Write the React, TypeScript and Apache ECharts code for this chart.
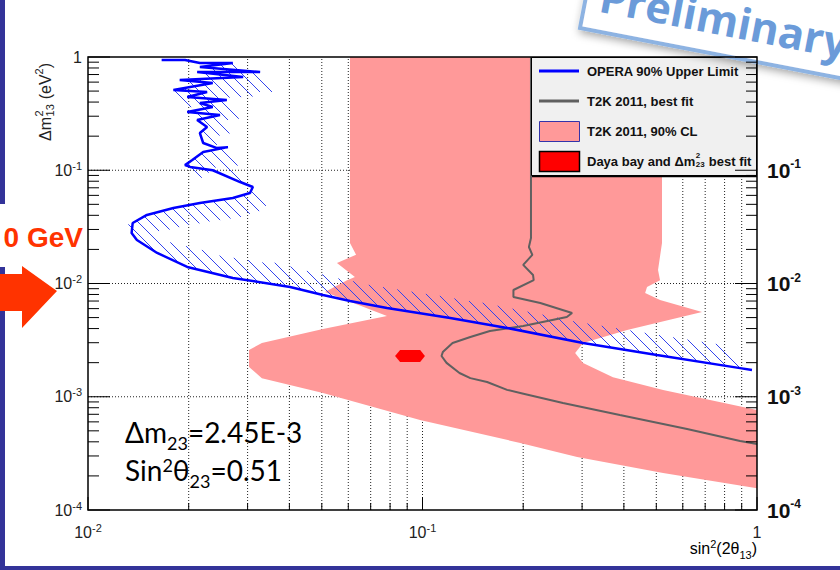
import React, { useEffect, useRef } from 'react';
import * as echarts from 'echarts';

// ---------- data (sin^2(2θ13), Δm^2_13 [eV^2]) ----------
const operaX = [0.0166, 0.0195, 0.0216, 0.0271, 0.0216, 0.0327, 0.0212, 0.0291, 0.0188, 0.0236, 0.0180, 0.0227, 0.0198, 0.0260, 0.0216, 0.0236, 0.0198, 0.0248, 0.0212, 0.0227, 0.0216, 0.0221, 0.0243, 0.0262, 0.0221, 0.0205, 0.0195, 0.0202, 0.0236, 0.0285, 0.0311, 0.0305, 0.0271, 0.0216, 0.0180, 0.0150, 0.0136, 0.0135, 0.0140, 0.0161, 0.0198, 0.0271, 0.0402, 0.0504, 0.0607, 0.0783, 0.121, 0.179, 0.302, 0.502, 0.890, 0.966];
const operaY = [0.941, 0.941, 0.885, 0.885, 0.816, 0.737, 0.737, 0.666, 0.626, 0.589, 0.511, 0.491, 0.443, 0.417, 0.392, 0.362, 0.327, 0.307, 0.278, 0.241, 0.213, 0.174, 0.157, 0.160, 0.145, 0.123, 0.111, 0.107, 0.100, 0.0787, 0.0711, 0.0630, 0.0569, 0.0514, 0.0464, 0.0403, 0.0342, 0.0279, 0.0242, 0.0186, 0.0140, 0.0112, 0.00931, 0.00792, 0.00701, 0.00608, 0.00496, 0.00405, 0.00298, 0.00234, 0.00179, 0.00172];

const t2kFitX = [0.211, 0.211, 0.208, 0.213, 0.200, 0.214, 0.215, 0.187, 0.187, 0.225, 0.280, 0.270, 0.200, 0.159, 0.139, 0.123, 0.115, 0.114, 0.118, 0.129, 0.139, 0.156, 0.179, 0.196, 0.263, 0.389, 0.524, 0.618, 0.890, 1.0];
const t2kFitY = [1.0, 0.0252, 0.0210, 0.0179, 0.0146, 0.0119, 0.0107, 0.00876, 0.00760, 0.00673, 0.00549, 0.00506, 0.00421, 0.00381, 0.00337, 0.00298, 0.00248, 0.00229, 0.00199, 0.00162, 0.00146, 0.00135, 0.00115, 0.00108, 0.000881, 0.000690, 0.000575, 0.000519, 0.000407, 0.000383];

const t2kClX = [0.0607, 0.520, 0.520, 0.506, 0.513, 0.469, 0.463, 0.513, 0.685, 0.409, 0.302, 0.286, 0.302, 0.371, 0.524, 1.0, 1.0, 0.524, 0.290, 0.196, 0.0983, 0.0504, 0.0331, 0.0303, 0.0303, 0.0331, 0.0504, 0.0783, 0.0511, 0.0595, 0.0628, 0.0555, 0.0633, 0.0607];
const t2kClY = [1.0, 1.0, 0.0228, 0.01316, 0.0107, 0.00931, 0.00824, 0.00715, 0.00560, 0.00389, 0.00298, 0.00243, 0.00199, 0.00149, 0.00115, 0.000764, 0.000156, 0.000212, 0.000294, 0.000391, 0.000623, 0.00108, 0.00146, 0.00183, 0.00259, 0.00298, 0.00396, 0.00516, 0.00841, 0.0107, 0.0114, 0.0152, 0.0179, 0.0228];

const dayaX = [0.0828, 0.0857, 0.0984, 0.1017, 0.0984, 0.0857];
const dayaY = [0.00229, 0.00259, 0.00259, 0.00229, 0.00203, 0.00203];

const xMajorTicks = [0.01, 0.1, 1];
const xMinorTicks = [0.02, 0.03, 0.04, 0.05, 0.06, 0.07, 0.08, 0.09, 0.2, 0.3, 0.4, 0.5, 0.6, 0.7, 0.8, 0.9];
const yMajorTicks = [1e-4, 1e-3, 1e-2, 1e-1, 1];
const yMinorTicks = [1e-4, 1e-3, 1e-2, 1e-1].flatMap((d) => [2, 3, 4, 5, 6, 7, 8, 9].map((m) => m * d));
const xGridLines = [0.02, 0.03, 0.04, 0.05, 0.06, 0.07, 0.08, 0.09, 0.1, 0.2, 0.3, 0.4, 0.5, 0.6, 0.7, 0.8, 0.9];
const yGridLines = [1e-3, 1e-2, 1e-1];

const legendNames = ['OPERA 90% Upper Limit', 'T2K 2011, best fit', 'T2K 2011, 90% CL'];

const FONT = '"Liberation Sans", Arial, Helvetica, sans-serif';
const SLIDE_FONT = 'Lato, "Open Sans", sans-serif';

let _ctx: CanvasRenderingContext2D | null = null;
function measure(t: string, font: string): number {
  if (!_ctx) _ctx = document.createElement('canvas').getContext('2d');
  if (!_ctx) return t.length * 7;
  _ctx.font = font;
  return _ctx.measureText(t).width;
}

function txt(text: string, x: number, y: number, size: number, opts: any = {}) {
  const align = opts.align || 'left';
  const va = opts.va || 'middle';
  return {
    type: 'text',
    z: opts.z ?? 60,
    style: {
      text, x, y,
      fontSize: size,
      fontFamily: opts.family || FONT,
      fontWeight: opts.weight || 'normal',
      fill: opts.fill || '#222',
      align, textAlign: align,
      verticalAlign: va, textVerticalAlign: va,
    },
  };
}

function polygonSeries(name: string, xs: number[], ys: number[], color: string, z: number) {
  return {
    type: 'custom', name, z, clip: true, silent: true,
    coordinateSystem: 'cartesian2d',
    data: xs.map((x, i) => [x, ys[i]]),
    renderItem: (params: any, api: any) => {
      if (params.dataIndex !== 0) return null;
      const points = xs.map((x, i) => api.coord([x, ys[i]]));
      return { type: 'polygon', shape: { points }, style: { fill: color, lineWidth: 0 } };
    },
  };
}

export default function App() {
  const ref = useRef<HTMLDivElement>(null);
  useEffect(() => {
    if (!ref.current) return;
    const chart = echarts.init(ref.current, null, { renderer: 'svg' });

    const expLabel = (v: number) => {
      const e = Math.round(Math.log10(v));
      return e === 0 ? '{b|1}' : `{b|10}{s|${e}}`;
    };
    const richReg = {
      b: { fontFamily: FONT, fontSize: 16, color: '#222', lineHeight: 20 },
      s: { fontFamily: FONT, fontSize: 11, color: '#222', lineHeight: 11, verticalAlign: 'top' },
    };
    const richBold = {
      b: { fontFamily: FONT, fontSize: 21, fontWeight: 'bold', color: '#111', lineHeight: 24 },
      s: { fontFamily: FONT, fontSize: 12, fontWeight: 'bold', color: '#111', lineHeight: 12, verticalAlign: 'top' },
    };

    // ---- legend (drawn with graphic elements) ----
    const LX = 587;
    const lf = `bold 13px ${FONT}`;
    const wDaya = measure('Daya bay and \u0394m', lf);
    const w23 = measure('23', `bold 8px ${FONT}`);
    const legendEls: any[] = [
      { type: 'rect', z: 50, shape: { x: 531.5, y: 57.5, width: 225, height: 118 }, style: { fill: '#f0f0f0', stroke: '#000', lineWidth: 1 } },
      { type: 'line', z: 51, shape: { x1: 532, y1: 176.5, x2: 757, y2: 176.5 }, style: { stroke: '#000', lineWidth: 1.5 } },
      { type: 'line', z: 51, shape: { x1: 539, y1: 71, x2: 579, y2: 71 }, style: { stroke: '#0000ff', lineWidth: 3 } },
      { type: 'line', z: 51, shape: { x1: 539, y1: 101, x2: 579, y2: 101 }, style: { stroke: '#606060', lineWidth: 3 } },
      { type: 'rect', z: 51, shape: { x: 539.5, y: 121.5, width: 40, height: 20 }, style: { fill: '#ff9999', stroke: '#3333aa', lineWidth: 1 } },
      { type: 'rect', z: 51, shape: { x: 539.5, y: 151.5, width: 40, height: 20 }, style: { fill: '#ff0000', stroke: '#000', lineWidth: 1.5 } },
      txt(legendNames[0], LX, 71, 13, { weight: 'bold', fill: '#111', z: 52 }),
      txt(legendNames[1], LX, 101, 13, { weight: 'bold', fill: '#111', z: 52 }),
      txt(legendNames[2], LX, 131, 13, { weight: 'bold', fill: '#111', z: 52 }),
      txt('Daya bay and \u0394m', LX, 161, 13, { weight: 'bold', fill: '#111', z: 52 }),
      txt('2', LX + wDaya + 0.5, 155, 8, { weight: 'bold', fill: '#111', z: 52 }),
      txt('23', LX + wDaya + 0.5, 164, 8, { weight: 'bold', fill: '#111', z: 52 }),
      txt(' best fit', LX + wDaya + w23 + 1, 161, 13, { weight: 'bold', fill: '#111', z: 52 }),
    ];

    // ---- y title (rotated, stacked sup/sub) ----
    const f16 = `16px ${FONT}`, f11 = `11px ${FONT}`;
    const a1 = measure('\u0394m', f16), a2 = measure('13', f11), a3 = measure(' (eV', f16), a4 = measure('2', f11);
    const yTitle = {
      type: 'group', x: 45, y: 141, rotation: Math.PI / 2, z: 40,
      children: [
        txt('\u0394m', 0, 0, 16),
        txt('2', a1 + 0.5, -6, 11),
        txt('13', a1 + 0.5, 5, 11),
        txt(' (eV', a1 + a2 + 1, 0, 16),
        txt('2', a1 + a2 + 1 + a3, -6, 11),
        txt(')', a1 + a2 + 1 + a3 + a4, 0, 16),
      ],
    };

    const xTitle = {
      type: 'text', z: 40,
      style: {
        text: '{a|sin}{p|2}{a|(2\u03b8}{s|13}{a|)}',
        x: 757, y: 536, align: 'right', textAlign: 'right', verticalAlign: 'top', textVerticalAlign: 'top',
        rich: {
          a: { fontFamily: FONT, fontSize: 16, color: '#222', lineHeight: 24 },
          p: { fontFamily: FONT, fontSize: 11, color: '#222', lineHeight: 11, verticalAlign: 'top', padding: [2, 0, 0, 0] },
          s: { fontFamily: FONT, fontSize: 11, color: '#222', lineHeight: 11, verticalAlign: 'bottom' },
        },
      },
    };

    const annot = (text: string, y: number) => ({
      type: 'text', z: 40,
      style: {
        text, x: 125, y, verticalAlign: 'top', textVerticalAlign: 'top',
        rich: {
          a: { fontFamily: SLIDE_FONT, fontSize: 28, color: '#000', lineHeight: 40 },
          s: { fontFamily: SLIDE_FONT, fontSize: 18, color: '#000', lineHeight: 18, verticalAlign: 'bottom' },
          p: { fontFamily: SLIDE_FONT, fontSize: 18, color: '#000', lineHeight: 18, verticalAlign: 'top', padding: [6, 0, 0, 0] },
        },
      },
    });

    const decor: any[] = [
      { type: 'rect', z: 1, shape: { x: 0, y: 0, width: 5, height: 204 }, style: { fill: '#333399' } },
      { type: 'rect', z: 1, shape: { x: 0, y: 267, width: 5, height: 303 }, style: { fill: '#333399' } },
      { type: 'rect', z: 1, shape: { x: 0, y: 566, width: 840, height: 4 }, style: { fill: '#333399' } },
      { type: 'polygon', z: 2, shape: { points: [[0, 274], [22, 274], [22, 266], [57, 291], [22, 328], [22, 311], [0, 311]] }, style: { fill: '#ff3300' } },
      txt('0 GeV', 83, 237, 28, { align: 'right', weight: 'bold', fill: '#ff3300', z: 3 }),
      {
        type: 'group', x: 580, y: 28, rotation: -0.19, z: 70,
        children: [
          { type: 'rect', z: 70, shape: { x: 0, y: -90, width: 330, height: 90 }, style: { fill: '#ffffff', stroke: '#8db3e2', lineWidth: 4, shadowBlur: 8, shadowColor: 'rgba(0,0,0,0.35)', shadowOffsetX: 2, shadowOffsetY: 3 } },
          txt('Preliminary', 140, -36, 43, { align: 'center', weight: 'bold', family: '"Open Sans", sans-serif', fill: '#6b9bd9', z: 71 }),
        ],
      },
      yTitle,
      xTitle,
      annot('{a|\u0394m}{s|23}{a|=2.45E-3}', 412),
      annot('{a|Sin}{p|2}{a|\u03b8}{s|23}{a|=0.51}', 450),
    ];

    const option: any = {
      animation: false,
      backgroundColor: '#ffffff',
      grid: { left: 88, top: 57, right: 83, bottom: 60, show: false },
      xAxis: {
        type: 'log', logBase: 10, min: 0.01, max: 1,
        axisLine: { show: false }, axisTick: { show: false }, splitLine: { show: false },
        axisLabel: { margin: 12, showMinLabel: true, showMaxLabel: true, formatter: expLabel, rich: richReg },
      },
      yAxis: [
        {
          type: 'log', logBase: 10, min: 1e-4, max: 1, position: 'left', z: 10,
          axisLine: { show: false }, axisTick: { show: false }, splitLine: { show: false },
          axisLabel: { margin: 6, showMinLabel: true, showMaxLabel: true, formatter: expLabel, rich: richReg },
        },
        {
          type: 'log', logBase: 10, min: 1e-4, max: 1, position: 'right',
          axisLine: { show: false }, axisTick: { show: false }, splitLine: { show: false },
          axisLabel: {
            margin: 10, showMinLabel: true, showMaxLabel: true, rich: richBold,
            formatter: (v: number) => { const e = Math.round(Math.log10(v)); return e === 0 ? '' : `{b|10}{s|${e}}`; },
          },
        },
      ],
      series: [
        {
          type: 'custom', name: 'grid', z: 1, clip: false, silent: true, coordinateSystem: 'cartesian2d',
          data: [[0.1, 0.01]],
          renderItem: (params: any, api: any) => {
            const ch: any[] = [];
            const st = { stroke: '#222', lineWidth: 1, lineDash: [1, 2] };
            for (const v of xGridLines) {
              const a = api.coord([v, 1e-4]), b = api.coord([v, 1]);
              ch.push({ type: 'line', shape: { x1: a[0], y1: a[1], x2: b[0], y2: b[1] }, style: st });
            }
            for (const v of yGridLines) {
              const a = api.coord([0.01, v]), b = api.coord([1, v]);
              ch.push({ type: 'line', shape: { x1: a[0], y1: a[1], x2: b[0], y2: b[1] }, style: st });
            }
            return { type: 'group', children: ch };
          },
        },
        polygonSeries(legendNames[2], t2kClX, t2kClY, '#ff9999', 2),
        {
          type: 'custom', name: 'OPERA hatch', z: 3, clip: true, silent: true, coordinateSystem: 'cartesian2d',
          data: operaX.map((x, i) => [x, operaY[i]]),
          renderItem: (params: any, api: any) => {
            if (params.dataIndex !== 0) return null;
            const pts = operaX.map((x, i) => api.coord([x, operaY[i]]));
            const ch: any[] = [];
            const s = 12, w = 20, h = Math.SQRT1_2;
            for (let i = 0; i < pts.length - 1; i++) {
              const [x0, y0] = pts[i], [x1, y1] = pts[i + 1];
              const dx = x1 - x0, dy = y1 - y0, len = Math.hypot(dx, dy);
              if (len < 0.5) continue;
              const nx = dy / len, ny = -dx / len;
              const dn = (nx + ny) * h;
              if (Math.abs(dn) < 0.2) continue;
              const sg = dn > 0 ? 1 : -1;
              // upper (jagged) part: excluded side is to the right only
              if (i < 29 && sg < 0) continue;
              const u0 = x0 - y0, u1 = x1 - y1;
              if (u0 === u1) continue;
              const lo = Math.min(u0, u1), hi = Math.max(u0, u1);
              const L = Math.min(w / Math.abs(dn), 40);
              for (let k = Math.ceil(lo / s); k * s <= hi; k++) {
                const t = (k * s - u0) / (u1 - u0);
                const px = x0 + t * dx, py = y0 + t * dy;
                ch.push({ type: 'line', shape: { x1: px, y1: py, x2: px + sg * h * L, y2: py + sg * h * L }, style: { stroke: '#3344ee', lineWidth: 1 } });
              }
            }
            return { type: 'group', children: ch };
          },
        },
        {
          type: 'line', name: legendNames[1], z: 4, clip: true, symbol: 'none', showSymbol: false, silent: true,
          data: t2kFitX.map((x, i) => [x, t2kFitY[i]]),
          lineStyle: { color: '#606060', width: 2 },
        },
        polygonSeries('Daya bay and \u0394m\u00b2\u2082\u2083 best fit', dayaX, dayaY, '#ff0000', 5),
        {
          type: 'line', name: legendNames[0], z: 6, clip: true, symbol: 'none', showSymbol: false, silent: true,
          data: operaX.map((x, i) => [x, operaY[i]]),
          lineStyle: { color: '#0000ff', width: 2.5 },
        },
        {
          type: 'custom', name: 'axes', z: 200, clip: false, silent: true, coordinateSystem: 'cartesian2d',
          data: [[0.1, 0.01]],
          renderItem: (params: any, api: any) => {
            const ch: any[] = [];
            const L = (a: number, b: number, c: number, d: number) =>
              ch.push({ type: 'line', shape: { x1: a, y1: b, x2: c, y2: d }, style: { stroke: '#000', lineWidth: 1 } });
            for (const v of yMajorTicks) {
              const p = api.coord([0.01, v]), q = api.coord([1, v]);
              L(p[0], p[1], p[0] + 22, p[1]);
              L(q[0], q[1], q[0] - 22, q[1]);
            }
            for (const v of yMinorTicks) {
              const p = api.coord([0.01, v]), q = api.coord([1, v]);
              L(p[0], p[1], p[0] + 11, p[1]);
              L(q[0], q[1], q[0] - 11, q[1]);
            }
            for (const v of xMajorTicks) {
              const p = api.coord([v, 1e-4]);
              L(p[0], p[1], p[0], p[1] - 13);
            }
            for (const v of xMinorTicks) {
              const p = api.coord([v, 1e-4]);
              L(p[0], p[1], p[0], p[1] - 7);
            }
            const tl = api.coord([0.01, 1]), br = api.coord([1, 1e-4]);
            ch.push({ type: 'rect', shape: { x: tl[0], y: tl[1], width: br[0] - tl[0], height: br[1] - tl[1] }, style: { fill: 'none', stroke: '#000', lineWidth: 1.5 } });
            return { type: 'group', children: ch };
          },
        },
      ],
      graphic: { elements: [...decor, ...legendEls] },
    };
    chart.setOption(option);
    return () => chart.dispose();
  }, []);
  return <div ref={ref} style={{ position: 'fixed', left: 0, top: 0, width: 840, height: 570, background: '#fff' }} />;
}
